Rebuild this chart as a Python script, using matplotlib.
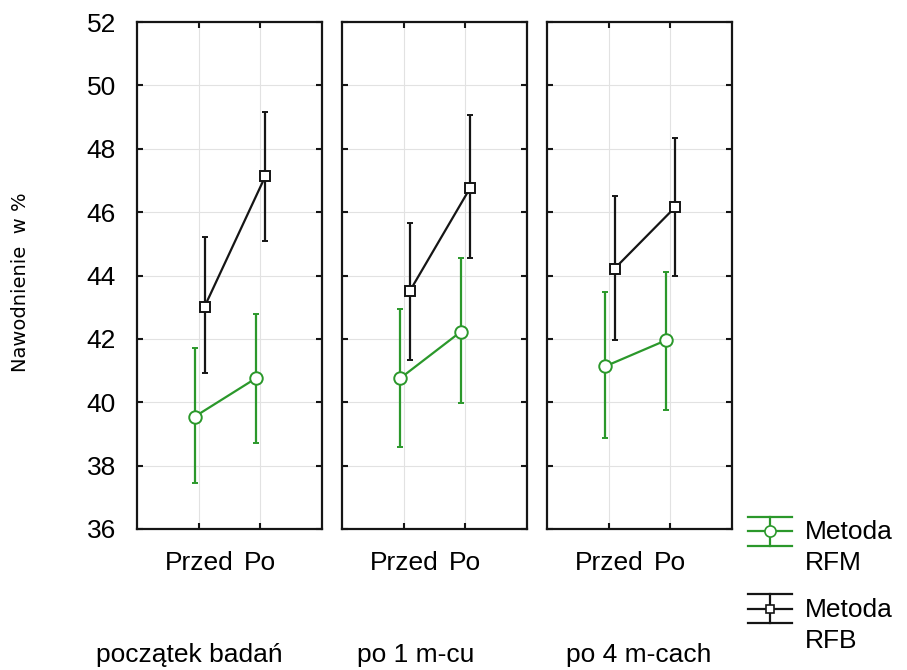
import matplotlib
matplotlib.use("Agg")
import matplotlib.pyplot as plt
from matplotlib.legend_handler import HandlerBase
from matplotlib.lines import Line2D

# Measurement stages and time points
stages = ["początek badań", "po 1 m-cu", "po 4 m-cach"]
timepoints = ["Przed", "Po"]

# Hydration (%) for the RFM method: means and interval bounds per stage
rfm_mean = [[39.55, 40.75], [40.75, 42.22], [41.13, 41.95]]
rfm_low = [[37.45, 38.70], [38.60, 39.97], [38.86, 39.75]]
rfm_high = [[41.72, 42.78], [42.95, 44.54], [43.47, 44.12]]

# Hydration (%) for the RFB method
rfb_mean = [[43.02, 47.13], [43.50, 46.77], [44.22, 46.16]]
rfb_low = [[40.92, 45.10], [41.34, 44.54], [41.97, 43.98]]
rfb_high = [[45.20, 49.17], [45.65, 49.07], [46.52, 48.35]]

yticks = [36, 38, 40, 42, 44, 46, 48, 50, 52]

GREEN = "#2b982b"
BLACK = "#151515"
FONT = "Liberation Sans"
FS = 19

plt.rcParams["font.family"] = [FONT, "DejaVu Sans"]

fig = plt.figure(figsize=(9.07, 6.70), dpi=100)
W, H = 907.0, 670.0

panel_left = [136.7, 341.7, 546.7]
panel_w = 185.0
bottom_px, top_px = 529.0, 22.0


def series(ax, x0, mean, low, high, color, marker, ms):
    xs = [x0 + i for i in range(len(mean))]
    yerr = [[m - l for m, l in zip(mean, low)], [h - m for m, h in zip(mean, high)]]
    ax.errorbar(xs, mean, yerr=yerr, color=color, lw=1.6, elinewidth=1.6,
                capsize=2.5, capthick=1.6, marker=marker, ms=ms,
                mfc="white", mec=color, mew=1.4, zorder=3)


for i, stage in enumerate(stages):
    ax = fig.add_axes([panel_left[i] / W, 1 - bottom_px / H,
                       panel_w / W, (bottom_px - top_px) / H])
    ax.set_xlim(-1.03, 2.02)
    ax.set_ylim(36, 52)
    ax.set_yticks(yticks)
    ax.set_xticks(range(len(timepoints)))
    ax.set_xticklabels(timepoints, fontsize=FS)
    ax.grid(True, color="#e2e2e2", lw=0.8, zorder=0)
    ax.tick_params(direction="in", length=4, width=1.5, top=True, right=True,
                   labelsize=FS, color=BLACK)
    ax.tick_params(axis="x", pad=16)
    ax.tick_params(axis="y", pad=15)
    if i > 0:
        ax.tick_params(labelleft=False)
    for sp in ax.spines.values():
        sp.set_linewidth(1.6)
        sp.set_color(BLACK)
    series(ax, -0.07, rfm_mean[i], rfm_low[i], rfm_high[i], GREEN, "o", 9)
    series(ax, 0.09, rfb_mean[i], rfb_low[i], rfb_high[i], BLACK, "s", 7)

# Stage names under each panel
stage_x = [189, 416, 639]
for sx, stage in zip(stage_x, stages):
    fig.text(sx / W, 1 - 655 / H, stage, ha="center", va="center", fontsize=FS)

fig.text(21 / W, 1 - 282 / H, "Nawodnienie  w %", rotation=90, ha="center",
         va="center", fontsize=14, family=["DejaVu Sans"])


class ErrorbarKey(HandlerBase):
    """Legend key: horizontal caps and line, vertical bar and a marker."""

    def __init__(self, color, marker, ms):
        super().__init__()
        self.color = color
        self.marker = marker
        self.ms = ms

    def create_artists(self, legend, orig_handle, xdescent, ydescent, width,
                       height, fontsize, trans):
        yc = -ydescent + height - 0.2 * fontsize
        dy = 0.55 * fontsize
        x0, x1 = -xdescent, -xdescent + width
        xm = (x0 + x1) / 2
        arts = []
        for y in (yc - dy, yc, yc + dy):
            arts.append(Line2D([x0, x1], [y, y], color=self.color, lw=1.6))
        arts.append(Line2D([xm, xm], [yc - dy, yc + dy], color=self.color, lw=1.6))
        arts.append(Line2D([xm], [yc], marker=self.marker, ms=self.ms,
                           mfc="white", mec=self.color, mew=1.2, ls="none"))
        for a in arts:
            a.set_transform(trans)
        return arts


h_rfm = Line2D([], [], color=GREEN)
h_rfb = Line2D([], [], color=BLACK)
leg = fig.legend([h_rfm, h_rfb], ["Metoda\nRFM", "Metoda\nRFB"],
                 handler_map={h_rfm: ErrorbarKey(GREEN, "o", 8),
                              h_rfb: ErrorbarKey(BLACK, "s", 6)},
                 loc="upper left", bbox_to_anchor=(748 / W, 1 - 520 / H),
                 frameon=False, fontsize=FS, borderpad=0, borderaxespad=0,
                 handlelength=1.65, handleheight=2.3, handletextpad=0.5,
                 labelspacing=0.85)
for t in leg.get_texts():
    t.set_linespacing(1.38)

fig.savefig("out.png", dpi=100)
